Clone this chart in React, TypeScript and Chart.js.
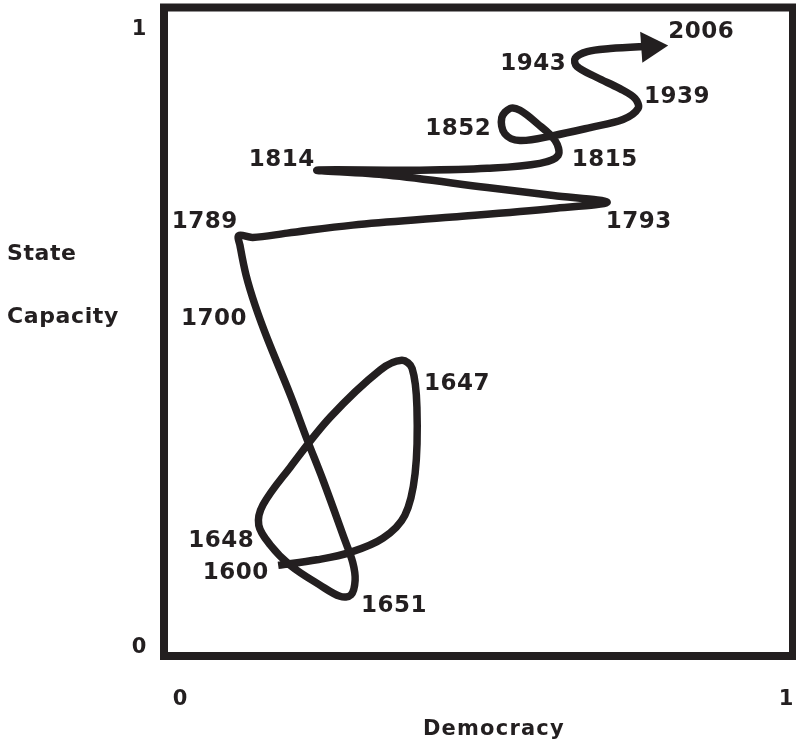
import React, { useEffect, useRef } from "react";
import { Chart, registerables } from "chart.js";

Chart.register(...registerables);

// Trajectory through (Democracy, State Capacity) space, 1600 -> 2006
const PATH_X = [
  0.162, 0.226, 0.281, 0.335, 0.371, 0.388, 0.391, 0.383, 0.366, 0.330,
  0.248, 0.182, 0.137, 0.130, 0.149, 0.182, 0.231, 0.264, 0.282, 0.289,
  0.285, 0.272, 0.236, 0.210, 0.182, 0.145, 0.124, 0.109, 0.099, 0.097,
  0.120, 0.177, 0.285, 0.450, 0.616, 0.705, 0.616, 0.507, 0.342, 0.226,
  0.396, 0.507, 0.594, 0.624, 0.619, 0.589, 0.561, 0.545, 0.531, 0.536,
  0.561, 0.616, 0.677, 0.731, 0.756, 0.751, 0.726, 0.688, 0.655, 0.652,
  0.672, 0.710, 0.759, 0.776,
];
const PATH_Y = [
  0.129, 0.138, 0.150, 0.173, 0.210, 0.278, 0.385, 0.448, 0.461, 0.445,
  0.369, 0.288, 0.227, 0.194, 0.162, 0.129, 0.097, 0.079, 0.081, 0.105,
  0.134, 0.170, 0.267, 0.332, 0.405, 0.494, 0.550, 0.599, 0.647, 0.663,
  0.660, 0.667, 0.680, 0.693, 0.707, 0.717, 0.728, 0.741, 0.761, 0.769,
  0.769, 0.772, 0.780, 0.793, 0.817, 0.845, 0.866, 0.869, 0.854, 0.828,
  0.817, 0.825, 0.838, 0.851, 0.869, 0.885, 0.901, 0.919, 0.937, 0.950,
  0.961, 0.966, 0.969, 0.969,
];

// Year annotations (label centre in data units)
const YEARS = ["2006", "1943", "1939", "1852", "1815", "1814", "1793", "1789", "1700", "1647", "1648", "1600", "1651"];
const YEAR_X = [0.860, 0.583, 0.820, 0.459, 0.701, 0.168, 0.757, 0.041, 0.056, 0.457, 0.068, 0.092, 0.353];
const YEAR_Y = [0.997, 0.945, 0.892, 0.840, 0.790, 0.790, 0.689, 0.689, 0.532, 0.427, 0.173, 0.121, 0.068];

const X_TICKS = [0, 1];
const Y_TICKS = [0, 1];
const X_TITLE = "Democracy";
const Y_TITLE_LINES = ["State", "Capacity"];

const INK = "#231f20";
const FONT = '"DejaVu Sans"';

const textPlugin = {
  id: "customText",
  afterDraw(chart: any) {
    const { ctx, chartArea, scales } = chart;
    const xs = scales.x;
    const ys = scales.y;
    ctx.save();
    // frame
    ctx.strokeStyle = INK;
    ctx.lineWidth = 8;
    ctx.strokeRect(chartArea.left, chartArea.top, chartArea.right - chartArea.left, chartArea.bottom - chartArea.top);

    ctx.fillStyle = INK;
    ctx.textBaseline = "alphabetic";
    // year labels
    ctx.font = `bold 23px ${FONT}`;
    ctx.textAlign = "center";
    (ctx as any).letterSpacing = "0.5px";
    YEARS.forEach((t, i) => {
      ctx.fillText(t, xs.getPixelForValue(YEAR_X[i]), ys.getPixelForValue(YEAR_Y[i]) + 8.5);
    });
    // ticks
    ctx.font = `bold 21px ${FONT}`;
    (ctx as any).letterSpacing = "0px";
    X_TICKS.forEach((v) => {
      ctx.fillText(String(v), xs.getPixelForValue(v), chartArea.bottom + 41.5 + 7.5);
    });
    Y_TICKS.forEach((v) => {
      ctx.fillText(String(v), chartArea.left - 25, ys.getPixelForValue(v) + 7.5);
    });
    // axis titles
    (ctx as any).letterSpacing = "1.2px";
    ctx.fillText(X_TITLE, xs.getPixelForValue(0.518), chartArea.bottom + 71 + 7.5);
    ctx.textAlign = "left";
    (ctx as any).letterSpacing = "0.6px";
    ctx.font = `bold 22px ${FONT}`;
    const yt = [0.636, 0.534];
    Y_TITLE_LINES.forEach((t, i) => {
      ctx.fillText(t, 7, ys.getPixelForValue(yt[i]) + 8);
    });
    ctx.restore();
  },
};

export default function App() {
  const ref = useRef<HTMLCanvasElement | null>(null);
  useEffect(() => {
    if (!ref.current) return;
    const pts = PATH_X.map((x, i) => ({ x, y: PATH_Y[i] }));
    const last = pts.length - 1;
    const chart = new Chart(ref.current, {
      type: "line",
      data: {
        datasets: [
          {
            data: pts,
            borderColor: INK,
            borderWidth: 7.5,
            tension: 0.35,
            borderCapStyle: "butt",
            borderJoinStyle: "round",
            pointStyle: "triangle",
            pointRadius: (c: any) => (c.dataIndex === last ? 18 : 0),
            pointRotation: 86,
            pointBackgroundColor: INK,
            pointBorderColor: INK,
            pointBorderWidth: 0,
            fill: false,
          } as any,
        ],
      },
      options: {
        animation: false,
        responsive: false,
        devicePixelRatio: 1,
        layout: { autoPadding: false, padding: { left: 164, top: 7.5, right: 3, bottom: 89 } },
        plugins: { legend: { display: false }, tooltip: { enabled: false } },
        scales: {
          x: { type: "linear", min: -0.0264, max: 1.0116, display: false },
          y: { type: "linear", min: -0.0178, max: 1.0324, display: false },
        },
      },
      plugins: [textPlugin],
    });
    return () => chart.destroy();
  }, []);
  return (
    <div style={{ position: "absolute", left: 0, top: 0, width: 796, height: 745, background: "#fff" }}>
      <canvas ref={ref} width={796} height={745} />
    </div>
  );
}
